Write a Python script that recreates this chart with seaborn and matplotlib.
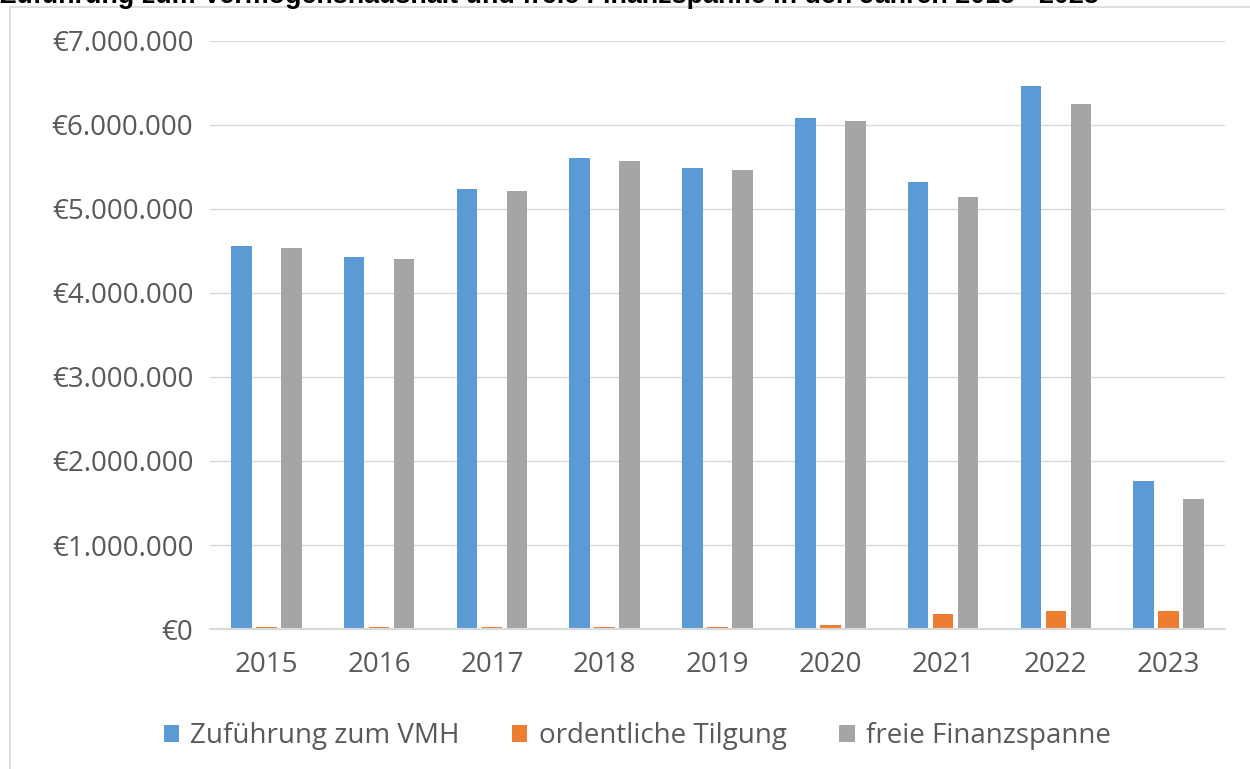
import numpy as np
import pandas as pd
import matplotlib
matplotlib.use("Agg")
import matplotlib.pyplot as plt
import seaborn as sns
from matplotlib.ticker import FuncFormatter
from matplotlib.patches import Rectangle

# ==== Daten ====
jahre = ["2015", "2016", "2017", "2018", "2019", "2020", "2021", "2022", "2023"]
zufuehrung = [4560000, 4430000, 5240000, 5610000, 5490000, 6080000, 5320000, 6460000, 1760000]
tilgung = [20000, 20000, 20000, 20000, 20000, 48000, 180000, 210000, 215000]
finanzspanne = [4535000, 4400000, 5210000, 5570000, 5460000, 6040000, 5140000, 6250000, 1550000]

serien = ["Zuführung zum VMH", "ordentliche Tilgung", "freie Finanzspanne"]
farben = ["#5b9bd5", "#ed7d31", "#a5a5a5"]

df = pd.DataFrame({
    "Jahr": jahre * 3,
    "Wert": zufuehrung + tilgung + finanzspanne,
    "Serie": [serien[0]] * 9 + [serien[1]] * 9 + [serien[2]] * 9,
})

sns.set_style("white")
plt.rcParams["font.family"] = ["Open Sans", "DejaVu Sans"]

fig = plt.figure(figsize=(12.5, 7.69), dpi=100)
ax = fig.add_axes([0.168, 0.182, 0.812, 0.765])

sns.barplot(data=df, x="Jahr", y="Wert", hue="Serie", palette=farben, saturation=1,
            width=0.665, gap=0.18, ax=ax, legend=True, linewidth=0)

ax.set_ylim(0, 7000000)
ax.set_yticks(np.arange(0, 7000001, 1000000))
ax.yaxis.set_major_formatter(FuncFormatter(lambda v, p: "€" + f"{int(v):,}".replace(",", ".")))
ax.grid(axis="y", color="#d9d9d9", linewidth=1)
ax.set_axisbelow(True)
for s in ["top", "right", "left"]:
    ax.spines[s].set_visible(False)
ax.spines["bottom"].set_color("#d9d9d9")
ax.spines["bottom"].set_linewidth(1.5)
ax.tick_params(axis="both", length=0, labelsize=20, colors="#595959", pad=12)
ax.tick_params(axis="x", pad=16)
ax.set_xlabel("")
ax.set_ylabel("")

handles, labels = ax.get_legend_handles_labels()
ax.get_legend().remove()
fig.legend(handles, labels, loc="center", bbox_to_anchor=(637 / 1250, 1 - 736 / 769), ncol=3,
           frameon=False, fontsize=20, labelcolor="#595959", handlelength=0.55, handleheight=0.55,
           handletextpad=0.4, columnspacing=1.9)

# Rahmen des Diagrammbereichs
fig.patches.append(Rectangle((10 / 1250, -0.01), 1.1, 1 - 7 / 769 + 0.01, transform=fig.transFigure,
                             fill=False, edgecolor="#d9d9d9", linewidth=1.2))

# abgeschnittener Titel oben
fig.text(0.0, 1 - 3 / 769, "Zuführung zum Vermögenshaushalt und freie Finanzspanne in den Jahren 2015 - 2023",
         fontsize=19.4, fontweight="bold", family="Liberation Sans", ha="left", va="baseline", color="#000000")

fig.savefig("out.png", dpi=100)
